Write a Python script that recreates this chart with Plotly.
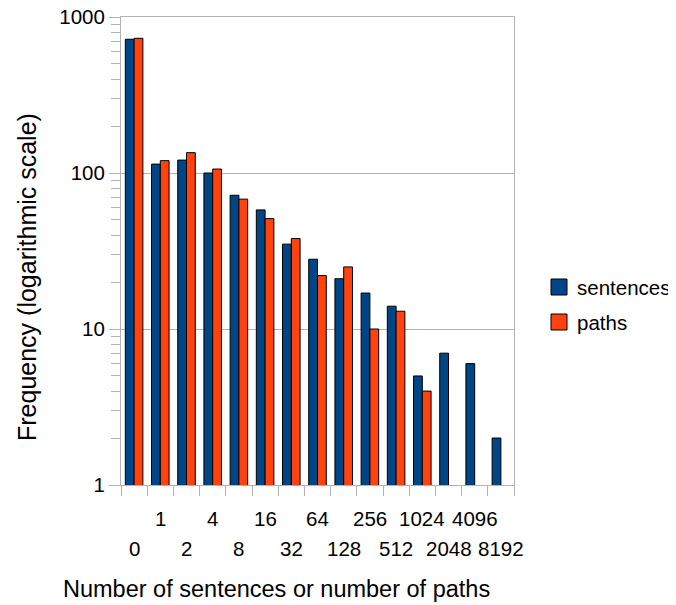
import plotly.graph_objects as go

categories = ["0", "1", "2", "4", "8", "16", "32", "64", "128", "256", "512", "1024", "2048", "4096", "8192"]
sentences = [720, 114, 121, 100, 72, 58, 35, 28, 21, 17, 14, 5, 7, 6, 2]
paths = [730, 120, 135, 106, 68, 51, 38, 22, 25, 10, 13, 4, None, None, None]
y_tick_vals = [1, 10, 100, 1000]
y_tick_text = ["1", "10", "100", "1000"]
series_names = ["sentences", "paths"]
series_colors = ["#004586", "#ff420e"]

FONT = "Liberation Sans, Arial, sans-serif"
GRID = "#b3b3b3"
FS = 20.5
FTX = 23.5
FTY = 25

# page body has an 8px margin; the figure is sized to fill the rest of the window
OFF = 8
W, H = 676 - OFF, 605 - OFF
L, T = 121 - OFF, 17 - OFF
R = 676 - 514
B = 605 - 485
PW, PH = W - L - R, H - T - B


def px_x(x):
    return (x - OFF - L) / PW


def px_y(y):
    return (H - B - (y - OFF)) / PH


fig = go.Figure()
for name, vals, col in zip(series_names, [sentences, paths], series_colors):
    fig.add_trace(go.Bar(name=name, x=categories, y=vals,
                         marker=dict(color=col, line=dict(color="#000000", width=1))))

minor_vals = [m * 10 ** d for d in range(3) for m in range(2, 10)]

fig.update_layout(
    width=W, height=H,
    margin=dict(l=L, r=R, t=T, b=B),
    paper_bgcolor="white", plot_bgcolor="white",
    font=dict(family=FONT, size=FS, color="#000000"),
    barmode="group", bargap=0.33, bargroupgap=0,
    showlegend=False,
    xaxis=dict(type="category", categoryorder="array", categoryarray=categories,
               showticklabels=False, showgrid=False, automargin=False,
               tickson="boundaries", ticks="outside", ticklen=10, tickcolor=GRID, tickwidth=1,
               showline=True, linecolor=GRID, linewidth=1, mirror=True,
               range=[-0.5, len(categories) - 0.5], fixedrange=True),
    yaxis=dict(type="log", range=[0, 3], tickvals=y_tick_vals, ticktext=y_tick_text,
               automargin=False, ticklabeloverflow="allow",
               ticks="outside", ticklen=11, tickcolor=GRID, tickwidth=1,
               showgrid=True, gridcolor=GRID, gridwidth=1,
               showline=True, linecolor=GRID, linewidth=1, mirror=True,
               zeroline=False,
               minor=dict(tickvals=minor_vals, ticks="outside", ticklen=9, tickcolor=GRID,
                          showgrid=False),
               tickfont=dict(size=FS)),
)

# staggered category labels
for i, c in enumerate(categories):
    yc = 518 if i % 2 == 1 else 548
    fig.add_annotation(x=i, y=px_y(yc), xref="x", yref="paper", text=c, showarrow=False,
                       yanchor="middle", xanchor="center", font=dict(size=FS))

# axis titles
fig.add_annotation(x=px_x(276.5), y=px_y(589), xref="paper", yref="paper",
                   text="Number of sentences or number of paths", showarrow=False,
                   xanchor="center", yanchor="middle", font=dict(size=FTX))
fig.add_annotation(x=px_x(27), y=px_y(277), xref="paper", yref="paper",
                   text="Frequency (logarithmic scale)", showarrow=False, textangle=-90,
                   xanchor="center", yanchor="middle", font=dict(size=FTY))

# legend
for k, (name, col) in enumerate(zip(series_names, series_colors)):
    y0 = 279 + 35 * k
    fig.add_shape(type="rect", xref="paper", yref="paper",
                  x0=px_x(551), x1=px_x(567), y0=px_y(y0 + 16), y1=px_y(y0),
                  fillcolor=col, line=dict(color="#000000", width=1))
    fig.add_annotation(x=px_x(575), y=px_y(y0 + 8), xref="paper", yref="paper",
                       text=name, showarrow=False, xanchor="left", yanchor="middle",
                       font=dict(size=FS))

fig.write_html("out.html")
